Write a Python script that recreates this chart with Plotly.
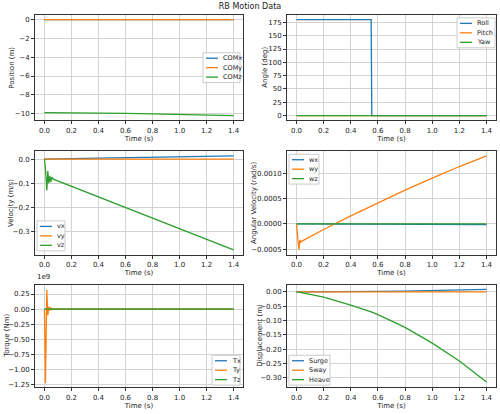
import plotly.graph_objects as go
from plotly.subplots import make_subplots

# ---------------- data ----------------
t = [0.0, 0.0075, 0.0175, 0.025, 0.032, 0.04, 0.047, 0.055, 0.065,
     0.2, 0.4, 0.55, 0.555, 0.6, 0.8, 1.0, 1.2, 1.4]

com_x = [0, 0, 0, 0, 0, 0, 0, 0, 0, 0.0002, 0.0008, 0.0014, 0.0014, 0.0017, 0.003, 0.0047, 0.0068, 0.009]
com_y = [0.0] * 18
com_z = [-9.9, -9.9003, -9.901, -9.9015, -9.902, -9.903, -9.9035, -9.904, -9.905,
         -9.918, -9.946, -9.970, -9.971, -9.979, -10.024, -10.079, -10.141, -10.215]

roll = [180] * 12 + [0] * 6
pitch = [0.0] * 18
yaw = [0.0] * 18

vx = [0, 0, 0.0001, 0.0002, 0.0003, 0.0004, 0.0004, 0.0005, 0.0006, 0.0019, 0.0038,
      0.0052, 0.0053, 0.0057, 0.0076, 0.0095, 0.0114, 0.0133]
vy = [0.0] * 18
vz = [0, -0.04, -0.13, -0.05, -0.10, -0.07, -0.095, -0.075, -0.083, -0.113, -0.157,
      -0.190, -0.191, -0.201, -0.245, -0.289, -0.333, -0.377]

wx = [0, 0, 0, 0, 0, 0, 0, 0, 0, -0.000002, -0.000004, -0.000006, -0.000006, -0.000006,
      -0.000008, -0.00001, -0.000012, -0.000014]
wy = [0, -0.00030, -0.00051, -0.00032, -0.00036, -0.00034, -0.00033, -0.00032, -0.00031,
      -0.00011, 0.00016, 0.00035, 0.00036, 0.00042, 0.00067, 0.00091, 0.00114, 0.00135]
wz = [0.0] * 18

tx = [0.0] * 18
ty = [0, -1.22e9, 0.32e9, -0.10e9, 0.04e9, -0.02e9, 0.02e9, 0.0, 0, 0, 0, 0, 0, 0, 0, 0, 0, 0]
tz = [0.0] * 18

surge = com_x
sway = [0.0] * 18
heave = [0, -0.0003, -0.001, -0.0015, -0.002, -0.003, -0.0035, -0.004, -0.005, -0.018,
         -0.046, -0.070, -0.071, -0.079, -0.124, -0.179, -0.241, -0.315]

torque_scale = 1e9

# ---------------- figure ----------------
C = ["#1f77b4", "#ff7f0e", "#2ca02c"]
W, H = 500, 414
FONT = "DejaVu Sans"
TXT = "#222222"

fig = make_subplots(rows=3, cols=2)

panels = [
    (1, 1, [("COMx", com_x), ("COMy", com_y), ("COMz", com_z)], "Position (m)"),
    (1, 2, [("Roll", roll), ("Pitch", pitch), ("Yaw", yaw)], "Angle (deg)"),
    (2, 1, [("vx", vx), ("vy", vy), ("vz", vz)], "Velocity (m/s)"),
    (2, 2, [("wx", wx), ("wy", wy), ("wz", wz)], "Angular Velocity (rad/s)"),
    (3, 1, [("Tx", [v / torque_scale for v in tx]), ("Ty", [v / torque_scale for v in ty]),
            ("Tz", [v / torque_scale for v in tz])], "Torque (Nm)"),
    (3, 2, [("Surge", surge), ("Sway", sway), ("Heave", heave)], "Displacement (m)"),
]

for i, (r, c, series, ylab) in enumerate(panels):
    for k, (name, vals) in enumerate(series):
        fig.add_trace(go.Scatter(x=t, y=vals, mode="lines", name=name,
                                 line=dict(color=C[k], width=1.3),
                                 showlegend=False), row=r, col=c)

# pixel layout of the axes boxes
cols_px = [(35, 243), (287, 496)]
rows_px = [(15, 121), (152, 256), (286, 389)]
yranges = [
    [-10.73, 0.51], [-9, 189],
    [-0.397, 0.0325], [-0.000612, 0.001443],
    [-1.285, 0.405], [-0.3325, 0.0255],
]
ydticks = [2, 25, 0.1, 0.0005, 0.25, 0.05]
yfmts = ["d", "d", ".1f", ".4f", ".2f", ".2f"]
ytitle_x = [12, 265, 11, 254, 7, 260]

# legend boxes: left, top, width (px)
legend_boxes = [(203, 53, 37), (457, 18, 38), (37, 222, 28),
                (289, 155, 30), (212, 357, 28), (289, 357, 41)]

axis_common = dict(showline=True, linecolor="#333333", linewidth=1, mirror=True,
                   ticks="outside", ticklen=3, tickcolor="#333333", tickwidth=1,
                   showgrid=True, gridcolor="#d3d3d3", gridwidth=1, zeroline=False,
                   tickfont=dict(size=7, color=TXT, family=FONT))


def px(xp):
    return xp / W


def py(yp):
    return 1 - yp / H


for i, (r, c, series, ylab) in enumerate(panels):
    x0, x1 = cols_px[c - 1]
    y0, y1 = rows_px[r - 1]
    fig.update_xaxes(domain=[px(x0), px(x1)], range=[-0.07, 1.47], dtick=0.2, tick0=0,
                     tickformat=".1f",
                     title=dict(text="Time (s)", font=dict(size=7, color=TXT, family=FONT),
                                standoff=1),
                     row=r, col=c, **axis_common)
    fig.update_yaxes(domain=[py(y1), py(y0)], range=yranges[i], dtick=ydticks[i], tick0=0,
                     tickformat=yfmts[i], row=r, col=c, **axis_common)
    # y axis title
    fig.add_annotation(text=ylab, xref="paper", yref="paper", x=px(ytitle_x[i]),
                       y=py((y0 + y1) / 2), textangle=-90, showarrow=False,
                       xanchor="center", yanchor="middle",
                       font=dict(size=7, color=TXT, family=FONT))
    # legend drawn inside the axes
    lx, ly, lw = legend_boxes[i]
    fig.add_shape(type="rect", xref="paper", yref="paper", x0=px(lx), x1=px(lx + lw),
                  y0=py(ly + 30), y1=py(ly), fillcolor="rgba(255,255,255,0.85)",
                  line=dict(color="#cccccc", width=1), layer="above")
    for k, (name, vals) in enumerate(series):
        yy = ly + 5.5 + k * 9.5
        fig.add_shape(type="line", xref="paper", yref="paper", x0=px(lx + 3), x1=px(lx + 15),
                      y0=py(yy), y1=py(yy), line=dict(color=C[k], width=1.3), layer="above")
        fig.add_annotation(text=name, xref="paper", yref="paper", x=px(lx + 18), y=py(yy),
                           xanchor="left", yanchor="middle", showarrow=False,
                           font=dict(size=6.5, color=TXT, family=FONT))

fig.add_annotation(text="1e9", xref="paper", yref="paper", x=px(35), y=py(284),
                   xanchor="left", yanchor="bottom", showarrow=False,
                   font=dict(size=7, color=TXT, family=FONT))

fig.update_layout(
    width=W, height=H, margin=dict(l=0, r=0, t=0, b=0), showlegend=False,
    paper_bgcolor="white", plot_bgcolor="white",
    title=dict(text="RB Motion Data", x=0.5, xanchor="center", y=py(6), yanchor="middle",
               font=dict(size=8, color=TXT, family=FONT)),
    font=dict(family=FONT, size=7, color=TXT),
)

fig.write_html("out.html")
